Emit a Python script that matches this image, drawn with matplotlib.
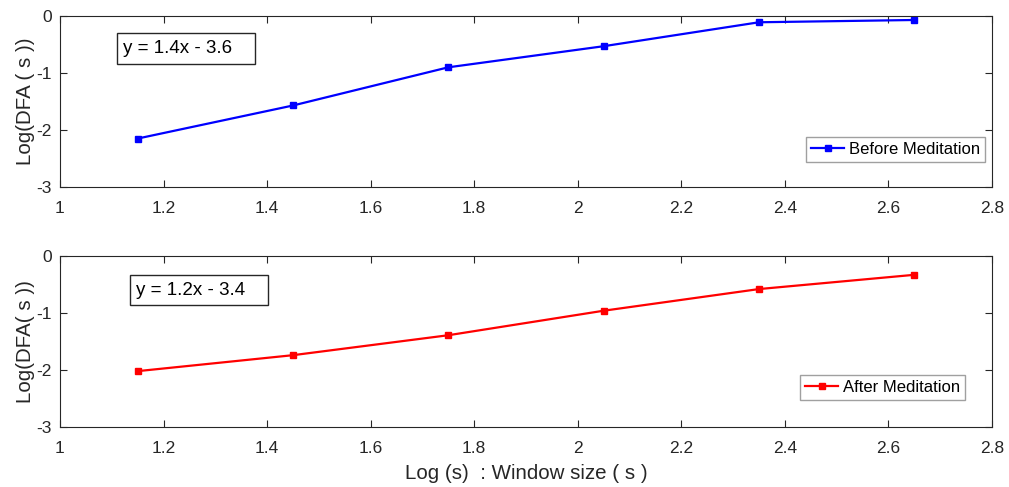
import numpy as np
import matplotlib.pyplot as plt

# window sizes (log) and DFA values
log_s = [1.15, 1.45, 1.75, 2.05, 2.35, 2.65]
dfa_before = [-2.15, -1.57, -0.90, -0.53, -0.11, -0.07]
dfa_after = [-2.02, -1.74, -1.39, -0.96, -0.58, -0.33]
fit_before = "y = 1.4x - 3.6"
fit_after = "y = 1.2x - 3.4"

plt.rcParams['font.family'] = ['Liberation Sans', 'DejaVu Sans']
plt.rcParams['axes.unicode_minus'] = False
dark = "#262626"

fig = plt.figure(figsize=(10.09, 4.87), dpi=100)
W, H = 1009.0, 487.0
ax1 = fig.add_axes([60/W, 1-187/H, 932/W, 171/H])
ax2 = fig.add_axes([60/W, 1-427/H, 932/W, 171/H])


def style(ax):
    ax.set_xlim(1, 2.8)
    ax.set_ylim(-3, 0)
    ax.set_xticks(np.arange(1, 2.81, 0.2))
    ax.set_xticklabels(["1", "1.2", "1.4", "1.6", "1.8", "2", "2.2", "2.4", "2.6", "2.8"])
    ax.set_yticks([-3, -2, -1, 0])
    ax.tick_params(direction='in', top=True, right=True, length=5, width=0.8,
                   colors=dark, labelsize=12.5)
    ax.tick_params(axis='x', pad=10)
    ax.tick_params(axis='y', pad=6)
    for sp in ax.spines.values():
        sp.set_color(dark)
        sp.set_linewidth(0.8)


ax1.plot(log_s, dfa_before, color='#0000ff', lw=1.6, marker='s', ms=4.5,
         label='Before Meditation')
style(ax1)
ax1.set_ylabel("Log(DFA ( s ))", fontsize=14.8, color=dark, labelpad=1)
ax1.text(1.122, -0.57, fit_before + "   ", fontsize=13.5, va='center', ha='left', color='black',
         bbox=dict(boxstyle='square,pad=0.35', fc='white', ec=dark, lw=1.0))
ax1.legend(loc='lower right', bbox_to_anchor=(0.993, 0.145), numpoints=1,
           fontsize=12, fancybox=False, edgecolor='#888888', handlelength=2.0,
           borderpad=0.3, handletextpad=0.3, borderaxespad=0)

ax2.plot(log_s, dfa_after, color='#ff0000', lw=1.6, marker='s', ms=4.5,
         label='After Meditation')
style(ax2)
ax2.set_ylabel("Log(DFA( s ))", fontsize=14.8, color=dark, labelpad=1)
ax2.set_xlabel("Log (s)  : Window size ( s )", fontsize=14.8, color=dark, labelpad=6)
ax2.text(1.147, -0.60, fit_after + "   ", fontsize=13.5, va='center', ha='left', color='black',
         bbox=dict(boxstyle='square,pad=0.35', fc='white', ec=dark, lw=1.0))
ax2.legend(loc='lower right', bbox_to_anchor=(0.9715, 0.16), numpoints=1,
           fontsize=12, fancybox=False, edgecolor='#888888', handlelength=2.0,
           borderpad=0.3, handletextpad=0.3, borderaxespad=0)

fig.savefig("out.png", dpi=100)
